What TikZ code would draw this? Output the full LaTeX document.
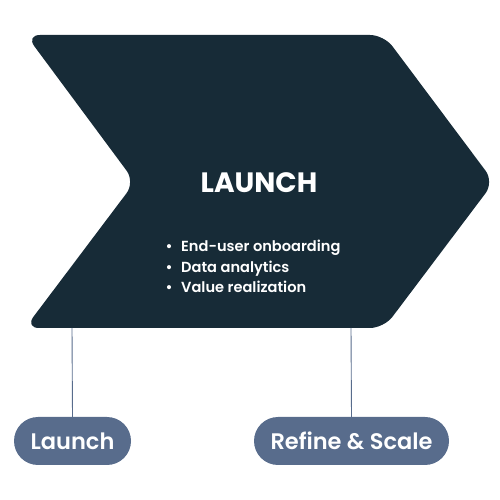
\documentclass[tikz,border=0pt]{standalone}
\usepackage{fontspec}
\setmainfont{Poppins}
\newfontfamily\semib{Poppins SemiBold}
\definecolor{navy}{HTML}{172B37}
\definecolor{slate}{HTML}{586C8C}
\begin{document}
\begin{tikzpicture}[x=1pt,y=1pt,
  pill/.style={fill=slate,rounded corners=24pt,minimum height=48pt,inner sep=0pt,text=white,font=\semib\fontsize{22.5}{26}\selectfont},
  link/.style={draw=slate,line width=0.9pt}]
\useasboundingbox (0,0) rectangle (500,500);
% chevron (y flipped: Y = 500 - y)
\fill[navy,rounded corners=14pt] (26,465) -- (384,465) -- (494,318) -- (384,172) -- (25,172) -- (135,318) -- cycle;
\coordinate (c1) at (72,172);
\coordinate (c2) at (351,172);
\node[text=white,font=\bfseries\fontsize{28}{30}\selectfont] (title) at (259,317) {LAUNCH};
\node[text=white,font=\semib\fontsize{14.6}{20.5}\selectfont,align=left,anchor=north west,inner sep=0pt] (list) at (163,260)
  {\makebox[18pt][l]{\,•}End-user onboarding\\\makebox[18pt][l]{\,•}Data analytics\\\makebox[18pt][l]{\,•}Value realization};
\node[pill,minimum width=117pt] (p1) at (72.5,59) {Launch};
\node[pill,minimum width=195pt] (p2) at (351.5,59) {Refine \& Scale};
\draw[link] (c1) -- (p1.north);
\draw[link] (c2) -- (p2.north);
\end{tikzpicture}
\end{document}
